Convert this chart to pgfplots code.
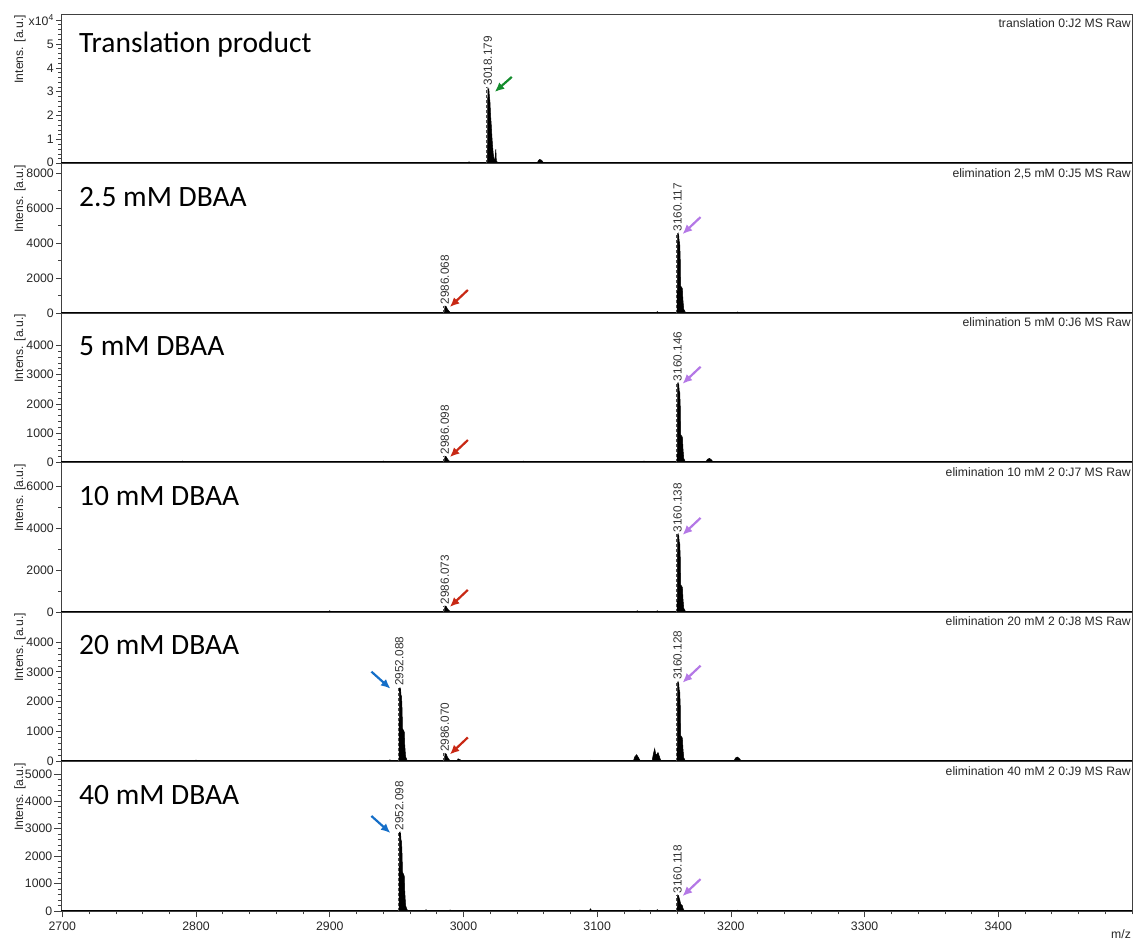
\documentclass[border=0pt]{standalone}
\usepackage{fontspec}
\setmainfont{Liberation Sans}
\newfontfamily\calibri{Carlito}
\usepackage{pgfplots}
\pgfplotsset{compat=1.18}
\usetikzlibrary{arrows.meta}

\definecolor{arrgreen}{RGB}{20,140,45}
\definecolor{arrpurple}{RGB}{180,120,230}
\definecolor{arrred}{RGB}{200,40,20}
\definecolor{arrblue}{RGB}{20,110,200}

\newcommand{\tf}{\fontsize{12.3}{14}\selectfont}
\newcommand{\pf}{\fontsize{11.8}{14}\selectfont}
\newcommand{\hf}{\fontsize{12.2}{14}\selectfont}

\tikzset{arr/.style={line width=2.2pt, -{Latex[length=9.5pt,width=8.5pt]}}}

% peak annotation: m/z position, height, printed m/z
\newcommand{\peak}[3]{%
  \draw[densely dashed, black!70, line width=0.5pt]
    ([xshift=-1.3pt]axis cs:#1,0) -- ([xshift=-1.3pt]axis cs:#1,#2);
  \node[rotate=90, anchor=west, font=\pf, text=black!80, inner sep=1.5pt]
    at (axis cs:#1,#2) {#3};}
% arrow pointing down-left onto a peak top
\newcommand{\arrR}[3]{%
  \draw[arr, #3] ([xshift=23pt,yshift=16pt]axis cs:#1,#2) -- ([xshift=5pt,yshift=-1pt]axis cs:#1,#2);}
% arrow pointing down-right onto a peak top
\newcommand{\arrL}[3]{%
  \draw[arr, #3] ([xshift=-28pt,yshift=16pt]axis cs:#1,#2) -- ([xshift=-9pt,yshift=-1pt]axis cs:#1,#2);}

\pgfplotsset{
  panel/.style={
    scale only axis, width=1071pt, height=149.5pt,
    anchor=south west,
    xmin=2699, xmax=3500, ymin=0,
    axis line style={black!75, line width=0.8pt},
    tick align=outside,
    tick style={black!75, line width=0.6pt},
    major tick length=5pt, minor tick length=3pt,
    ytick pos=left,
    xtick=\empty,
    yticklabel style={font=\tf, text=black!85, inner xsep=2pt, inner ysep=0pt},
    xticklabel style={font=\tf, text=black!85, inner sep=3pt, yshift=-1.5pt},
    /pgf/number format/assume math mode=true,
    /pgf/number format/1000 sep={},
    scaled ticks=false,
    clip mode=individual,
  },
  spec/.style={draw=black, fill=black, line width=0.5pt},
  base/.style={black, line width=2.6pt},
}

\newcommand{\paneltext}[3]{% top offset of baseline, panel name, run name
  \node[anchor=base west, font=\calibri\fontsize{29.5}{32}\selectfont, inner sep=0pt]
    at ([xshift=18pt,yshift=-#1]rel axis cs:0,1) {#2};
  \node[anchor=north east, font=\hf, text=black!85, inner sep=0pt]
    at ([xshift=-1pt,yshift=-4.5pt]rel axis cs:1,1) {#3};
  \node[rotate=90, anchor=east, font=\hf, text=black!85, inner sep=0pt]
    at ([xshift=-41pt,yshift=-1pt]rel axis cs:0,1) {Intens. [a.u.]};}

\begin{document}
\begin{tikzpicture}
\useasboundingbox (0,0) rectangle (1136pt,940pt);

% ---------- translation product ----------
\begin{axis}[panel, at={(61pt,776.5pt)}, ymax=6.25,
  ytick={0,1,2,3,4,5,6},
  yticklabels={\raisebox{2.5pt}{0},1,2,3,4,5,{x10\textsuperscript{4}}},
  minor y tick num=4]
\addplot[spec] table {
x y
2699 0
2974 0
2975 0.03
2976 0
2995 0
2996 0.02
2997 0
3003 0
3004 0.07
3005.5 0.04
3007 0
3017.9 0
3018.2 3.2
3018.6 3.05
3019.0 3.1
3019.4 2.8
3019.8 2.6
3020.3 2.0
3020.8 1.6
3021.3 1.1
3021.8 0.7
3022.3 0.4
3022.8 0.2
3023.5 0.15
3024.2 0.6
3024.6 0.1
3025.5 0.05
3026.5 0
3040 0
3041 0.03
3042 0
3055 0
3056 0.12
3057 0.17
3058 0.15
3059 0.1
3060 0
3073 0
3074 0.03
3075 0
3094 0
3095 0.03
3096 0
3500 0
} \closedcycle;
\addplot[base] coordinates {(2699,0) (3500,0)};
\peak{3018.179}{3.2}{3018.179}
\draw[arr, arrgreen] ([xshift=24pt,yshift=10pt]axis cs:3018.179,3.2) -- ([xshift=7pt,yshift=-5pt]axis cs:3018.179,3.2);
\paneltext{38.5pt}{Translation product}{translation 0:J2 MS Raw}
\end{axis}

% ---------- 2.5 mM ----------
\begin{axis}[panel, at={(61pt,627pt)}, ymax=8550,
  ytick={0,2000,4000,6000,8000}, minor y tick num=1]
\addplot[spec] table {
x y
2699 0
2814 0
2815 40
2816 0
2985.8 0
2986.1 400
2986.5 380
2986.9 390
2987.3 330
2987.8 250
2988.4 180
2989 120
2990 40
2991 0
3144 0
3145 80
3146 0
3159.8 0
3160.1 4570
3160.5 4390
3160.9 4520
3161.3 4110
3161.7 4020
3162.1 3200
3162.4 1550
3163.7 1400
3164.1 780
3164.7 230
3165.6 80
3166.6 0
3204 0
3205 60
3206 0
3500 0
} \closedcycle;
\addplot[base] coordinates {(2699,0) (3500,0)};
\peak{2986.068}{400}{2986.068}
\peak{3160.117}{4570}{3160.117}
\arrR{2986.068}{400}{arrred}
\arrR{3160.117}{4570}{arrpurple}
\paneltext{43pt}{2.5 mM DBAA}{elimination 2,5 mM 0:J5 MS Raw}
\end{axis}

% ---------- 5 mM ----------
\begin{axis}[panel, at={(61pt,477.5pt)}, ymax=5100,
  ytick={0,1000,2000,3000,4000}, minor y tick num=4]
\addplot[spec] table {
x y
2699 0
2719 0
2720 40
2721 0
2759 0
2760 30
2761 0
2789 0
2790 50
2791 0
2829 0
2830 30
2831 0
2869 0
2870 40
2871 0
2904 0
2905 30
2906 0
2939 0
2940 50
2941 0
2969 0
2970 40
2971 0
2985.8 0
2986.1 220
2986.5 205
2986.9 210
2987.3 180
2987.8 140
2988.4 100
2989 65
2990 25
2991 0
3009 0
3010 30
3011 0
3044 0
3045 50
3046 0
3079 0
3080 30
3081 0
3109 0
3110 40
3111 0
3134 0
3135 50
3136 0
3159.85 0
3160.15 2720
3160.55 2610
3160.95 2690
3161.35 2450
3161.75 2390
3162.15 1900
3162.45 950
3163.75 860
3164.15 480
3164.75 140
3165.65 50
3166.65 0
3181 0
3182.5 110
3184 140
3185.5 90
3187 0
3229 0
3230 40
3231 0
3269 0
3270 30
3271 0
3309 0
3310 40
3311 0
3349 0
3350 30
3351 0
3389 0
3390 40
3391 0
3429 0
3430 30
3431 0
3469 0
3470 40
3471 0
3500 0
} \closedcycle;
\addplot[base] coordinates {(2699,0) (3500,0)};
\peak{2986.098}{220}{2986.098}
\peak{3160.146}{2720}{3160.146}
\arrR{2986.098}{220}{arrred}
\arrR{3160.146}{2720}{arrpurple}
\paneltext{43pt}{5 mM DBAA}{elimination 5 mM 0:J6 MS Raw}
\end{axis}

% ---------- 10 mM ----------
\begin{axis}[panel, at={(61pt,328pt)}, ymax=7120,
  ytick={0,2000,4000,6000}, minor y tick num=1]
\addplot[spec] table {
x y
2699 0
2899 0
2900 60
2901 0
2985.8 0
2986.1 290
2986.5 275
2986.9 280
2987.3 240
2987.8 180
2988.4 130
2989 85
2990 30
2991 0
3129 0
3130 60
3131 0
3144 0
3145 60
3146 0
3159.84 0
3160.14 3720
3160.54 3570
3160.94 3680
3161.34 3350
3161.74 3270
3162.14 2600
3162.44 1300
3163.74 1170
3164.14 650
3164.74 190
3165.64 65
3166.64 0
3500 0
} \closedcycle;
\addplot[base] coordinates {(2699,0) (3500,0)};
\peak{2986.073}{290}{2986.073}
\peak{3160.138}{3720}{3160.138}
\arrR{2986.073}{290}{arrred}
\arrR{3160.138}{3720}{arrpurple}
\paneltext{43pt}{10 mM DBAA}{elimination 10 mM 2 0:J7 MS Raw}
\end{axis}

% ---------- 20 mM ----------
\begin{axis}[panel, at={(61pt,178.5pt)}, ymax=5000,
  ytick={0,1000,2000,3000,4000}, minor y tick num=4]
\addplot[spec] table {
x y
2699 0
2799 0
2800 50
2801 0
2929 0
2930 40
2931 0
2944 0
2945 60
2946 0
2951.8 0
2952.1 2470
2952.5 2370
2952.9 2440
2953.3 2220
2953.7 2170
2954.1 1730
2954.4 1100
2955.7 990
2956.1 550
2956.7 170
2957.6 60
2958.6 0
2985.8 0
2986.1 270
2986.5 255
2986.9 260
2987.3 225
2987.8 170
2988.4 120
2989 80
2990 30
2991 0
2995 0
2996 90
2997.5 60
2999 0
3094 0
3095 40
3096 0
3127 0
3128 150
3129.5 230
3131 120
3132.5 0
3141 0
3142 250
3143 430
3144 200
3145.5 300
3147 100
3148 0
3159.83 0
3160.13 2670
3160.53 2560
3160.93 2640
3161.33 2400
3161.73 2350
3162.13 1870
3162.43 870
3163.73 780
3164.13 440
3164.73 130
3165.63 45
3166.63 0
3175 0
3176 30
3177 0
3185 0
3186 30
3187 0
3195 0
3196 30
3197 0
3202 0
3203.5 120
3205 150
3206.5 90
3208 0
3259 0
3260 30
3261 0
3500 0
} \closedcycle;
\addplot[base] coordinates {(2699,0) (3500,0)};
\peak{2952.088}{2470}{2952.088}
\peak{2986.070}{270}{2986.070}
\peak{3160.128}{2670}{3160.128}
\arrL{2952.088}{2470}{arrblue}
\arrR{2986.070}{270}{arrred}
\arrR{3160.128}{2670}{arrpurple}
\paneltext{43pt}{20 mM DBAA}{elimination 20 mM 2 0:J8 MS Raw}
\end{axis}

% ---------- 40 mM ----------
\begin{axis}[panel, at={(61pt,29pt)}, ymax=5450,
  ytick={0,1000,2000,3000,4000,5000}, minor y tick num=4,
  xtick={2700,2800,2900,3000,3100,3200,3300,3400},
  minor xtick={2720,2740,...,3500},
  xtick pos=bottom, major tick length=6.5pt, minor tick length=3.5pt]
\addplot[spec] table {
x y
2699 0
2951.8 0
2952.1 2880
2952.5 2760
2952.9 2850
2953.3 2590
2953.7 2530
2954.1 2020
2954.4 1420
2955.7 1280
2956.1 710
2956.7 210
2957.6 70
2958.6 0
2971 0
2972 50
2973 0
2989 0
2990 40
2991 0
3094 0
3095 80
3096 0
3131 0
3132 40
3133 0
3144 0
3145 50
3146 0
3159.8 0
3160.1 580
3160.5 540
3160.9 560
3161.3 470
3161.7 420
3162.1 330
3162.4 250
3163.7 200
3164.1 110
3164.7 40
3165.6 15
3166.6 0
3204 0
3205 30
3206 0
3500 0
} \closedcycle;
\addplot[base] coordinates {(2699,0) (3500,0)};
\peak{2952.098}{2880}{2952.098}
\peak{3160.118}{580}{3160.118}
\arrL{2952.098}{2880}{arrblue}
\arrR{3160.118}{580}{arrpurple}
\paneltext{43pt}{40 mM DBAA}{elimination 40 mM 2 0:J9 MS Raw}
\node[font=\hf, text=black!85] at ([xshift=-11pt,yshift=-23pt]rel axis cs:1,0) {m/z};
\end{axis}
\end{tikzpicture}
\end{document}
